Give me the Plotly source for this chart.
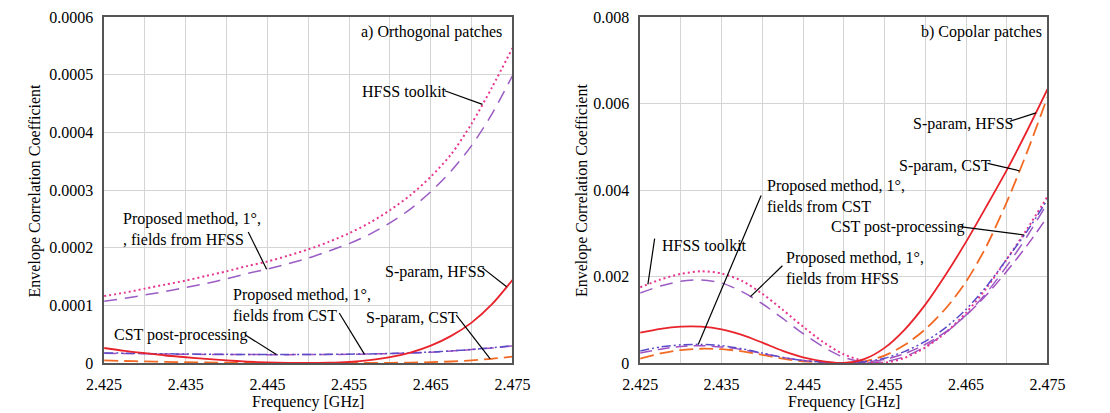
import numpy as np
import plotly.graph_objects as go

# Frequency grid [GHz]
freq = [2.425, 2.4275, 2.430, 2.4325, 2.435, 2.4375, 2.440, 2.4425, 2.445, 2.4475,
        2.450, 2.4525, 2.455, 2.4575, 2.460, 2.4625, 2.465, 2.4675, 2.470, 2.4725, 2.475]

# a) Orthogonal patches, ECC (x1e-4)
orth_hfss_toolkit = [1.16, 1.22, 1.29, 1.36, 1.43, 1.51, 1.59, 1.68, 1.76, 1.86, 1.97,
                     2.10, 2.25, 2.43, 2.65, 2.91, 3.23, 3.62, 4.15, 4.78, 5.46]
orth_proposed_hfss = [1.07, 1.12, 1.18, 1.24, 1.31, 1.38, 1.46, 1.55, 1.63, 1.72, 1.82,
                      1.94, 2.07, 2.23, 2.43, 2.67, 2.97, 3.33, 3.77, 4.32, 4.98]
orth_sparam_hfss = [0.26, 0.21, 0.17, 0.13, 0.10, 0.07, 0.045, 0.025, 0.010, 0.002, 0.0,
                    0.005, 0.02, 0.05, 0.10, 0.18, 0.30, 0.47, 0.70, 1.02, 1.44]
orth_sparam_cst = [0.045, 0.035, 0.027, 0.020, 0.014, 0.010, 0.006, 0.003, 0.001, 0.0, 0.0,
                   0.0, 0.0, 0.001, 0.003, 0.007, 0.014, 0.026, 0.045, 0.073, 0.11]
orth_cst_post = [0.175, 0.170, 0.165, 0.160, 0.155, 0.152, 0.150, 0.148, 0.147, 0.147, 0.148,
                 0.150, 0.153, 0.158, 0.165, 0.175, 0.190, 0.210, 0.235, 0.265, 0.300]
orth_proposed_cst = [0.168, 0.164, 0.160, 0.156, 0.152, 0.149, 0.147, 0.146, 0.145, 0.145, 0.146,
                     0.148, 0.151, 0.156, 0.163, 0.173, 0.187, 0.207, 0.232, 0.262, 0.296]

# b) Copolar patches, ECC (x1e-3)
cop_hfss_toolkit = [1.75, 1.93, 2.06, 2.12, 2.07, 1.90, 1.60, 1.23, 0.84, 0.48, 0.20,
                    0.05, 0.01, 0.12, 0.36, 0.70, 1.16, 1.73, 2.40, 3.10, 3.85]
cop_proposed_hfss = [1.62, 1.78, 1.89, 1.92, 1.85, 1.65, 1.37, 1.03, 0.68, 0.37, 0.13,
                     0.02, 0.03, 0.15, 0.38, 0.70, 1.11, 1.62, 2.24, 2.93, 3.70]
cop_sparam_hfss = [0.70, 0.79, 0.84, 0.84, 0.78, 0.65, 0.47, 0.28, 0.13, 0.04, 0.0,
                   0.09, 0.35, 0.78, 1.35, 2.04, 2.80, 3.62, 4.46, 5.37, 6.33]
cop_sparam_cst = [0.10, 0.22, 0.30, 0.33, 0.32, 0.27, 0.19, 0.10, 0.04, 0.01, 0.0,
                  0.04, 0.17, 0.42, 0.78, 1.26, 1.88, 2.70, 3.72, 4.88, 6.15]
cop_cst_post = [0.28, 0.37, 0.42, 0.43, 0.40, 0.33, 0.23, 0.13, 0.06, 0.02, 0.0,
                0.03, 0.11, 0.27, 0.50, 0.82, 1.24, 1.77, 2.40, 3.05, 3.78]
cop_proposed_cst = [0.23, 0.32, 0.38, 0.40, 0.37, 0.31, 0.22, 0.13, 0.06, 0.02, 0.0,
                    0.02, 0.08, 0.22, 0.43, 0.72, 1.10, 1.57, 2.12, 2.72, 3.38]

x_tick_vals = [2.425, 2.435, 2.445, 2.455, 2.465, 2.475]
x_tick_text = ["2.425", "2.435", "2.445", "2.455", "2.465", "2.475"]
y1_tick_vals = [0, 0.0001, 0.0002, 0.0003, 0.0004, 0.0005, 0.0006]
y1_tick_text = ["0", "0.0001", "0.0002", "0.0003", "0.0004", "0.0005", "0.0006"]
y2_tick_vals = [0, 0.002, 0.004, 0.006, 0.008]
y2_tick_text = ["0", "0.002", "0.004", "0.006", "0.008"]

FONT = '"Times New Roman", "Liberation Serif", "DejaVu Serif", serif'
RED = "#e8232b"
ORANGE = "#f26a24"
PINK = "#e8358f"
PURPLE = "#9b5cc4"
VIOLET = "#5a4cc8"
PURPLE2 = "#a24fc0"

styles = {
    "hfss_toolkit": dict(color=PINK, width=2.0, dash="2px,3px"),
    "proposed_hfss": dict(color=PURPLE, width=1.5, dash="13px,8px"),
    "sparam_hfss": dict(color=RED, width=1.8, dash="solid"),
    "sparam_cst": dict(color=ORANGE, width=1.8, dash="14px,6px"),
    "cst_post": dict(color=VIOLET, width=1.5, dash="9px,3px,2px,3px,2px,3px"),
    "proposed_cst": dict(color=PURPLE2, width=1.5, dash="12px,6px"),
}

f = np.array(freq)
orth = {
    "proposed_hfss": np.array(orth_proposed_hfss) * 1e-4,
    "hfss_toolkit": np.array(orth_hfss_toolkit) * 1e-4,
    "sparam_cst": np.array(orth_sparam_cst) * 1e-4,
    "proposed_cst": np.array(orth_proposed_cst) * 1e-4,
    "cst_post": np.array(orth_cst_post) * 1e-4,
    "sparam_hfss": np.array(orth_sparam_hfss) * 1e-4,
}
cop = {
    "proposed_hfss": np.array(cop_proposed_hfss) * 1e-3,
    "hfss_toolkit": np.array(cop_hfss_toolkit) * 1e-3,
    "sparam_cst": np.array(cop_sparam_cst) * 1e-3,
    "proposed_cst": np.array(cop_proposed_cst) * 1e-3,
    "cst_post": np.array(cop_cst_post) * 1e-3,
    "sparam_hfss": np.array(cop_sparam_hfss) * 1e-3,
}

fig = go.Figure()
for key, vals in orth.items():
    fig.add_trace(go.Scatter(x=f, y=vals, mode="lines", line=dict(shape="spline", smoothing=0.8, **styles[key]),
                             xaxis="x", yaxis="y", showlegend=False, hoverinfo="skip"))
for key, vals in cop.items():
    fig.add_trace(go.Scatter(x=f, y=vals, mode="lines", line=dict(shape="spline", smoothing=0.8, **styles[key]),
                             xaxis="x2", yaxis="y2", showlegend=False, hoverinfo="skip"))

GRID = "#d4d4d4"
AXLINE = "#555555"
tickfont = dict(family=FONT, size=16, color="black")

def xaxis_cfg(domain, anchor):
    return dict(domain=domain, anchor=anchor, range=[2.425, 2.475], tickvals=x_tick_vals, ticktext=x_tick_text,
                showgrid=True, gridcolor=GRID, gridwidth=1, zeroline=False,
                minor=dict(tick0=2.425, dtick=0.005, showgrid=True, gridcolor=GRID, gridwidth=1),
                showline=True, mirror=True, linecolor=AXLINE, linewidth=1.5, ticks="",
                tickfont=tickfont, ticklabelstandoff=6)

def yaxis_cfg(domain, anchor, rng, vals, text):
    return dict(domain=domain, anchor=anchor, range=rng, tickvals=vals, ticktext=text,
                showgrid=True, gridcolor=GRID, gridwidth=1, zeroline=False,
                showline=True, mirror=True, linecolor=AXLINE, linewidth=1.5, ticks="",
                tickfont=tickfont, ticklabelstandoff=6)

W, H = 1110, 413
TOP, BOTTOM = 17, 50
PH = H - TOP - BOTTOM  # plot-area height in pixels
fig.update_layout(
    width=W, height=H, margin=dict(l=0, r=0, t=TOP, b=BOTTOM),
    paper_bgcolor="white", plot_bgcolor="white", showlegend=False,
    font=dict(family=FONT, size=16, color="black"),
    xaxis=xaxis_cfg([89 / W, 511 / W], "y"),
    yaxis=yaxis_cfg([0, 1], "x", [0, 0.0006], y1_tick_vals, y1_tick_text),
    xaxis2=xaxis_cfg([643 / W, 1064 / W], "y2"),
    yaxis2=yaxis_cfg([0, 1], "x2", [0, 0.008], y2_tick_vals, y2_tick_text),
)

annotations = []
shapes = []

def label(xr, yr, x, y, text, xanchor="left"):
    annotations.append(dict(xref=xr, yref=yr, x=x, y=y, text=text, showarrow=False,
                            xanchor=xanchor, yanchor="middle", align="left",
                            font=dict(family=FONT, size=16, color="black")))

def leader(xr, yr, x0, y0, x1, series):
    y1 = float(np.interp(x1, f, series))
    shapes.append(dict(type="line", xref=xr, yref=yr, x0=x0, y0=y0, x1=x1, y1=y1,
                       line=dict(color="black", width=1.2)))

# Panel a) annotations
label("x", "y", 2.47393, 0.000574, "a) Orthogonal patches", xanchor="right")
label("x", "y", 2.45628, 0.000470, "HFSS toolkit")
leader("x", "y", 2.46671, 0.000472, 2.47133, orth["hfss_toolkit"])
label("x", "y", 2.42701, 0.000232, "Proposed method, 1°,<br>, fields from HFSS")
leader("x", "y", 2.44265, 0.000227, 2.44490, orth["proposed_hfss"])
label("x", "y", 2.45912, 0.000158, "S-param, HFSS")
leader("x", "y", 2.47133, 0.000165, 2.47429, orth["sparam_hfss"])
label("x", "y", 2.44052, 0.0001006, "Proposed method, 1°,<br>fields from CST")
leader("x", "y", 2.45379, 0.0000867, 2.45687, orth["proposed_cst"])
label("x", "y", 2.45687, 0.000078, "S-param, CST")
leader("x", "y", 2.46813, 0.0000832, 2.47228, orth["sparam_cst"])
label("x", "y", 2.42595, 0.0000486, "CST post-processing")
leader("x", "y", 2.44230, 0.0000486, 2.44609, orth["cst_post"])

# Panel b) annotations
label("x2", "y2", 2.47453, 0.007652, "b) Copolar patches", xanchor="right")
label("x2", "y2", 2.45825, 0.005519, "S-param, HFSS")
leader("x2", "y2", 2.47037, 0.005588, 2.47358, cop["sparam_hfss"])
label("x2", "y2", 2.45647, 0.004545, "S-param, CST")
leader("x2", "y2", 2.46764, 0.004614, 2.47156, cop["sparam_cst"])
label("x2", "y2", 2.44032, 0.003861, "Proposed method, 1°,<br>fields from CST")
leader("x2", "y2", 2.43985, 0.003872, 2.43213, cop["cst_post"])
label("x2", "y2", 2.42738, 0.002713, "HFSS toolkit")
leader("x2", "y2", 2.42678, 0.002875, 2.42595, cop["hfss_toolkit"])
label("x2", "y2", 2.44270, 0.002203, "Proposed method, 1°,<br>fields from HFSS")
leader("x2", "y2", 2.44246, 0.002249, 2.43854, cop["proposed_hfss"])
label("x2", "y2", 2.44816, 0.003154, "CST post-processing")
leader("x2", "y2", 2.46420, 0.003154, 2.47215, cop["cst_post"])

# Axis titles (paper coordinates span the plot area: y=0 at its bottom edge)
title_font = dict(family=FONT, size=16, color="black")
y_xtitle = (H - BOTTOM - 402) / PH
y_ytitle = (H - BOTTOM - 190) / PH
for xc in (300 / W, 853.5 / W):
    annotations.append(dict(xref="paper", yref="paper", x=xc, y=y_xtitle, yanchor="middle",
                            xanchor="center", text="Frequency [GHz]", showarrow=False, font=title_font))
for xc in (18 / W, 583 / W):
    annotations.append(dict(xref="paper", yref="paper", x=xc, y=y_ytitle, yanchor="middle",
                            xanchor="center", text="Envelope Correlation Coefficient", textangle=-90,
                            showarrow=False, font=title_font))

fig.update_layout(annotations=annotations, shapes=shapes)
fig.write_html("out.html")
